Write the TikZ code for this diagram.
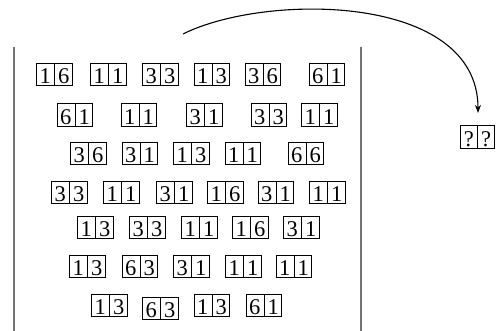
\documentclass[tikz,border=0pt]{standalone}
\usepackage{fontspec}
\setmainfont{Liberation Serif}
\usetikzlibrary{shapes.multipart,arrows.meta}
\newcommand{\dg}[1]{\rule[-0.5pt]{0pt}{19.5pt}#1}
\newcommand{\pr}[2]{\dg{#1}\nodepart{two}\dg{#2}}
\begin{document}
\begin{tikzpicture}[x=1pt,y=1pt,
  pair/.style={draw, line width=0.9pt, rectangle split, rectangle split horizontal,
    rectangle split parts=2, inner xsep=3.1pt, inner ysep=1.5pt,
    font=\fontsize{22.5}{22.5}\selectfont},
  wall/.style={draw=black!55, line width=1.6pt},
  flow/.style={draw, line width=1.1pt, -{Stealth[length=8pt,width=6pt]}}]
\useasboundingbox (0,0) rectangle (500,331);
\coordinate (wl1) at (14,284); \coordinate (wl2) at (14,0);
\coordinate (wr1) at (361,284); \coordinate (wr2) at (361,0);
\draw[wall] (wl1) -- (wl2);
\draw[wall] (wr1) -- (wr2);
% row 1
\node[pair] (a1) at (54.5,256.5) {\pr{1}{6}};
\node[pair] (a2) at (108.5,256.5) {\pr{1}{1}};
\node[pair] (a3) at (160.5,256.5) {\pr{3}{3}};
\node[pair] (a4) at (212,256.5) {\pr{1}{3}};
\node[pair] (a5) at (263,256.5) {\pr{3}{6}};
\node[pair] (a6) at (327,256.5) {\pr{6}{1}};
% row 2
\node[pair] (b1) at (75,216) {\pr{6}{1}};
\node[pair] (b2) at (139,216) {\pr{1}{1}};
\node[pair] (b3) at (204.5,216) {\pr{3}{1}};
\node[pair] (b4) at (269,216) {\pr{3}{3}};
\node[pair] (b5) at (319.5,216) {\pr{1}{1}};
% row 3
\node[pair] (c1) at (88.5,177.5) {\pr{3}{6}};
\node[pair] (c2) at (140,177.5) {\pr{3}{1}};
\node[pair] (c3) at (191.5,177.5) {\pr{1}{3}};
\node[pair] (c4) at (243,177.5) {\pr{1}{1}};
\node[pair] (c5) at (306,177.5) {\pr{6}{6}};
% row 4
\node[pair] (d1) at (69.5,138.5) {\pr{3}{3}};
\node[pair] (d2) at (121.5,138.5) {\pr{1}{1}};
\node[pair] (d3) at (174.5,138.5) {\pr{3}{1}};
\node[pair] (d4) at (225.5,138.5) {\pr{1}{6}};
\node[pair] (d5) at (276,138.5) {\pr{3}{1}};
\node[pair] (d6) at (327.5,138.5) {\pr{1}{1}};
% row 5
\node[pair] (e1) at (95.5,103.5) {\pr{1}{3}};
\node[pair] (e2) at (147.5,103.5) {\pr{3}{3}};
\node[pair] (e3) at (199.5,103.5) {\pr{1}{1}};
\node[pair] (e4) at (250.5,103.5) {\pr{1}{6}};
\node[pair] (e5) at (301.5,103.5) {\pr{3}{1}};
% row 6
\node[pair] (f1) at (87.5,64.5) {\pr{1}{3}};
\node[pair] (f2) at (140,64.5) {\pr{6}{3}};
\node[pair] (f3) at (191.5,64.5) {\pr{3}{1}};
\node[pair] (f4) at (243.5,64.5) {\pr{1}{1}};
\node[pair] (f5) at (294,64.5) {\pr{1}{1}};
% row 7
\node[pair] (g1) at (109.5,25.5) {\pr{1}{3}};
\node[pair] (g2) at (160.5,22.5) {\pr{6}{3}};
\node[pair] (g3) at (212,25.5) {\pr{1}{3}};
\node[pair] (g4) at (264,25.5) {\pr{6}{1}};
% unknown
\node[pair] (q) at (477.5,194) {\pr{?}{?}};
\coordinate (src) at (183,297);
\coordinate (dst) at (478,218);
\draw[flow] (src) .. controls (265,338) and (478,338) .. (dst);
\end{tikzpicture}
\end{document}
